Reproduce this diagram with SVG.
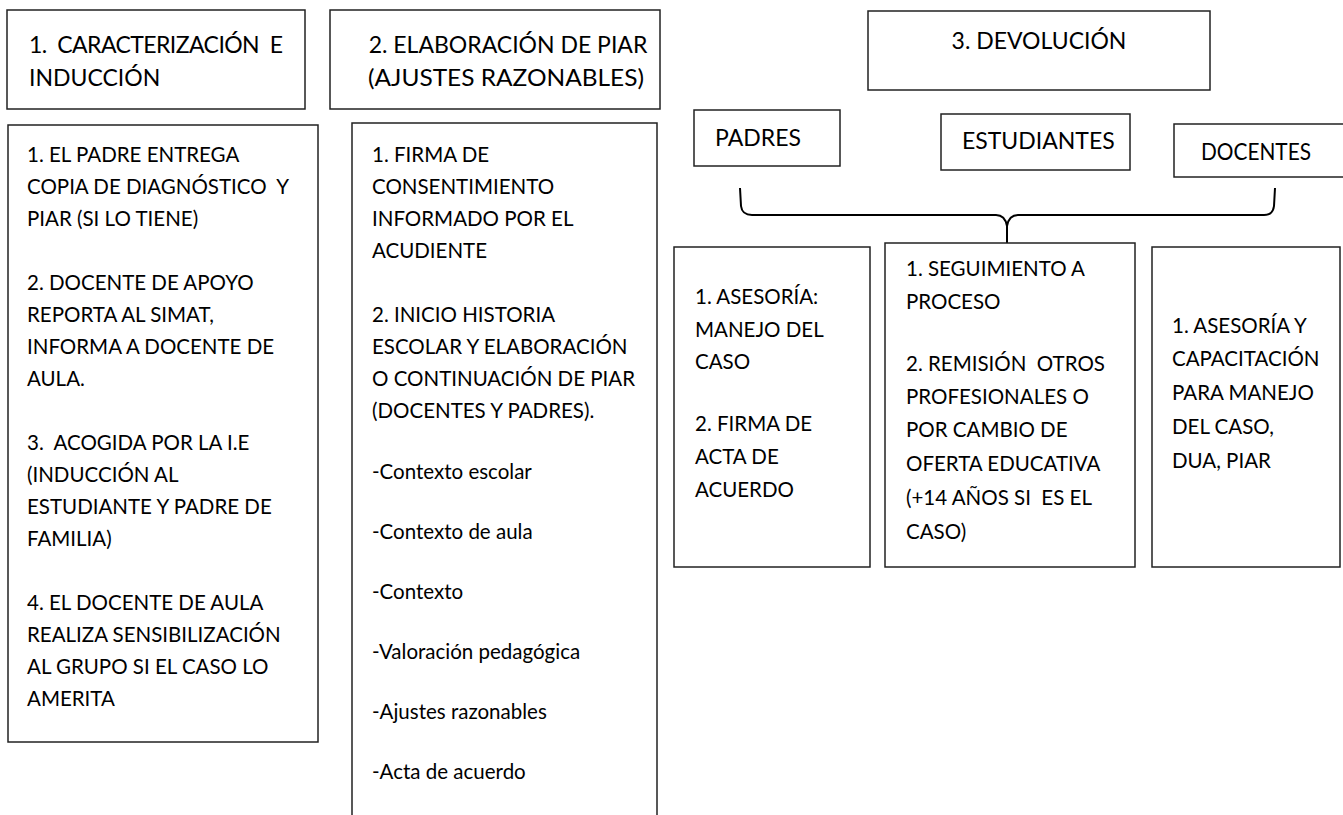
<svg xmlns="http://www.w3.org/2000/svg" width="1343" height="815" viewBox="0 0 1343 815">
<style>
  .box{fill:#fff;stroke:#222;stroke-width:1.5}
  text{white-space:pre}
  .h{font-family:Lato,"Liberation Sans",sans-serif;font-size:23px;fill:#000}
  .t{font-family:Lato,"Liberation Sans",sans-serif;font-size:20.5px;fill:#000}
  .c{stroke:#000;stroke-width:2;fill:none}
</style>
<rect width="1343" height="815" fill="#fff"/>
<g id="h1">
  <rect class="box" x="7" y="10" width="298" height="99"/>
  <text class="h" x="29" y="53" xml:space="preserve" textLength="254" lengthAdjust="spacing">1.  CARACTERIZACIÓN  E</text>
  <text class="h" x="29" y="86">INDUCCIÓN</text>
</g>
<g id="h2">
  <rect class="box" x="330" y="10" width="330" height="99"/>
  <text class="h" x="508" y="53" text-anchor="middle">2. ELABORACIÓN DE PIAR</text>
  <text class="h" x="506" y="86" text-anchor="middle" textLength="276" lengthAdjust="spacingAndGlyphs">(AJUSTES RAZONABLES)</text>
</g>
<g id="c1">
  <rect class="box" x="8" y="125" width="310" height="617"/>
  <text class="t" x="27" y="162">1. EL PADRE ENTREGA</text>
  <text class="t" x="27" y="194" xml:space="preserve">COPIA DE DIAGNÓSTICO  Y</text>
  <text class="t" x="27" y="226">PIAR (SI LO TIENE)</text>
  <text class="t" x="27" y="290">2. DOCENTE DE APOYO</text>
  <text class="t" x="27" y="322">REPORTA AL SIMAT,</text>
  <text class="t" x="27" y="354">INFORMA A DOCENTE DE</text>
  <text class="t" x="27" y="386">AULA.</text>
  <text class="t" x="27" y="450" xml:space="preserve">3.  ACOGIDA POR LA I.E</text>
  <text class="t" x="27" y="482">(INDUCCIÓN AL</text>
  <text class="t" x="27" y="514">ESTUDIANTE Y PADRE DE</text>
  <text class="t" x="27" y="546">FAMILIA)</text>
  <text class="t" x="27" y="610">4. EL DOCENTE DE AULA</text>
  <text class="t" x="27" y="642">REALIZA SENSIBILIZACIÓN</text>
  <text class="t" x="27" y="674">AL GRUPO SI EL CASO LO</text>
  <text class="t" x="27" y="706">AMERITA</text>
</g>
<g id="c2">
  <path class="box" d="M352,820 V123 H657 V820"/>
  <text class="t" x="372" y="162">1. FIRMA DE</text>
  <text class="t" x="372" y="194">CONSENTIMIENTO</text>
  <text class="t" x="372" y="226">INFORMADO POR EL</text>
  <text class="t" x="372" y="258">ACUDIENTE</text>
  <text class="t" x="372" y="322">2. INICIO HISTORIA</text>
  <text class="t" x="372" y="354">ESCOLAR Y ELABORACIÓN</text>
  <text class="t" x="372" y="386">O CONTINUACIÓN DE PIAR</text>
  <text class="t" x="372" y="418">(DOCENTES Y PADRES).</text>
  <text class="t" x="372" y="479">-Contexto escolar</text>
  <text class="t" x="372" y="539">-Contexto de aula</text>
  <text class="t" x="372" y="599">-Contexto</text>
  <text class="t" x="372" y="659">-Valoración pedagógica</text>
  <text class="t" x="372" y="719">-Ajustes razonables</text>
  <text class="t" x="372" y="779">-Acta de acuerdo</text>
</g>
<g id="h3">
  <rect class="box" x="868" y="11" width="342" height="79"/>
  <text class="h" x="1039" y="49" text-anchor="middle">3. DEVOLUCIÓN</text>
</g>
<g id="padres">
  <rect class="box" x="694" y="110" width="146" height="56"/>
  <text class="h" x="715" y="146">PADRES</text>
</g>
<g id="estudiantes">
  <rect class="box" x="941" y="114" width="189" height="56"/>
  <text class="h" x="962" y="149">ESTUDIANTES</text>
</g>
<g id="docentes">
  <rect class="box" x="1174" y="124" width="180" height="53"/>
  <text class="h" x="1201" y="160" textLength="110" lengthAdjust="spacingAndGlyphs">DOCENTES</text>
</g>
<g id="connectors">
  <path class="c" d="M740,188 L741,206 Q742,215 752,215 L996,215 Q1005,215 1007,226 L1007,243 M1007,226 Q1009,215 1018,215 L1264,215 Q1273,215 1274,206 L1275,188"/>
</g>
<g id="b1">
  <rect class="box" x="674" y="247" width="196" height="320"/>
  <text class="t" x="695" y="304">1. ASESORÍA:</text>
  <text class="t" x="695" y="337">MANEJO DEL</text>
  <text class="t" x="695" y="369">CASO</text>
  <text class="t" x="695" y="431">2. FIRMA DE</text>
  <text class="t" x="695" y="464">ACTA DE</text>
  <text class="t" x="695" y="497">ACUERDO</text>
</g>
<g id="b2">
  <rect class="box" x="885" y="243" width="250" height="324"/>
  <text class="t" x="906" y="276">1. SEGUIMIENTO A</text>
  <text class="t" x="906" y="309">PROCESO</text>
  <text class="t" x="906" y="371" xml:space="preserve">2. REMISIÓN  OTROS</text>
  <text class="t" x="906" y="404">PROFESIONALES O</text>
  <text class="t" x="906" y="437">POR CAMBIO DE</text>
  <text class="t" x="906" y="471">OFERTA EDUCATIVA</text>
  <text class="t" x="906" y="505" xml:space="preserve">(+14 AÑOS SI  ES EL</text>
  <text class="t" x="906" y="539">CASO)</text>
</g>
<g id="b3">
  <rect class="box" x="1152" y="247" width="188" height="320"/>
  <text class="t" x="1172" y="333">1. ASESORÍA Y</text>
  <text class="t" x="1172" y="366">CAPACITACIÓN</text>
  <text class="t" x="1172" y="400">PARA MANEJO</text>
  <text class="t" x="1172" y="434">DEL CASO,</text>
  <text class="t" x="1172" y="468">DUA, PIAR</text>
</g>
</svg>
